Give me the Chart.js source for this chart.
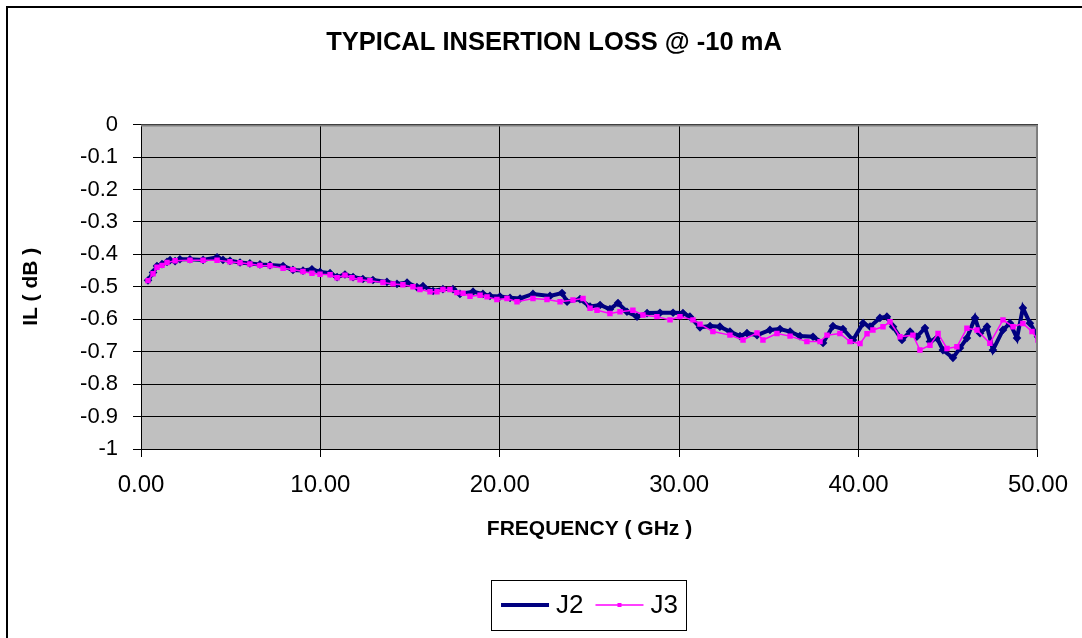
<!DOCTYPE html>
<html>
<head>
<meta charset="utf-8">
<title>Typical insertion loss</title>
<script src="https://cdn.jsdelivr.net/npm/chart.js@4/dist/chart.umd.min.js"></script>
<style>
  html, body { margin: 0; padding: 0; background: #fff; }
  #wrap { width: 1082px; height: 638px; }
</style>
</head>
<body>
<div id="wrap"><canvas id="ilChart" width="1082" height="638"></canvas></div>
<script>
// frequency (GHz) / insertion loss (dB)
var j2Freq = [0.39, 0.67, 0.89, 1.17, 1.45, 1.62, 1.90, 2.17, 2.73, 3.46,
  4.24, 4.57, 4.96, 5.52, 6.07, 6.63, 7.19, 7.92, 8.47, 9.03,
  9.53, 9.98, 10.54, 10.93, 11.37, 11.82, 12.37, 12.93, 13.71, 14.27,
  14.83, 15.38, 15.72, 16.28, 16.83, 17.39, 17.78, 18.51, 19.06, 19.45,
  20.01, 20.57, 21.13, 21.85, 22.80, 23.47, 23.75, 24.47, 25.03, 25.59,
  26.14, 26.59, 27.09, 27.65, 28.21, 28.93, 29.66, 30.21, 30.60, 31.16,
  31.72, 32.27, 32.83, 33.39, 33.78, 34.34, 35.06, 35.62, 36.18, 36.73,
  37.46, 38.02, 38.57, 39.13, 39.69, 40.25, 40.64, 41.19, 41.58, 41.92,
  42.42, 42.87, 43.25, 43.70, 43.98, 44.37, 44.70, 45.26, 45.65, 46.04,
  46.49, 46.77, 47.16, 47.49, 48.05, 48.44, 48.83, 49.16, 49.55, 50.00];
var j2Loss = [-0.480, -0.456, -0.436, -0.430, -0.423, -0.418, -0.421, -0.415, -0.415, -0.417,
  -0.409, -0.417, -0.420, -0.425, -0.428, -0.431, -0.433, -0.436, -0.448, -0.450,
  -0.446, -0.454, -0.458, -0.470, -0.462, -0.470, -0.476, -0.479, -0.485, -0.491,
  -0.487, -0.501, -0.498, -0.513, -0.507, -0.507, -0.522, -0.515, -0.522, -0.528,
  -0.530, -0.534, -0.536, -0.522, -0.528, -0.519, -0.546, -0.538, -0.561, -0.556,
  -0.569, -0.550, -0.577, -0.592, -0.581, -0.580, -0.580, -0.581, -0.592, -0.625,
  -0.621, -0.623, -0.638, -0.652, -0.643, -0.649, -0.633, -0.630, -0.638, -0.652,
  -0.654, -0.673, -0.621, -0.630, -0.664, -0.612, -0.623, -0.596, -0.592, -0.623,
  -0.664, -0.638, -0.654, -0.627, -0.669, -0.658, -0.695, -0.719, -0.689, -0.658,
  -0.596, -0.643, -0.623, -0.695, -0.633, -0.612, -0.658, -0.565, -0.612, -0.654];

var j3Freq = [0.39, 0.67, 0.89, 1.17, 1.45, 1.90, 2.73, 3.46, 4.24, 4.96,
  5.52, 6.07, 6.63, 7.19, 7.92, 8.47, 9.03, 9.53, 9.98, 10.54,
  10.93, 11.37, 11.76, 12.21, 12.76, 13.49, 14.05, 14.60, 15.16, 15.55,
  16.11, 16.50, 16.83, 17.22, 17.61, 17.95, 18.34, 18.90, 19.29, 19.84,
  20.40, 20.96, 21.85, 22.63, 23.36, 24.08, 24.64, 25.03, 25.42, 26.14,
  26.70, 27.42, 27.98, 28.76, 29.49, 30.04, 30.77, 31.16, 31.88, 32.83,
  33.56, 34.34, 34.67, 35.45, 36.18, 37.12, 37.85, 38.24, 38.96, 39.52,
  40.08, 40.47, 40.80, 41.36, 41.75, 42.31, 43.03, 43.42, 43.98, 44.43,
  44.93, 45.48, 46.04, 46.60, 47.32, 48.05, 48.61, 49.16, 49.67, 50.00];
var j3Loss = [-0.481, -0.460, -0.440, -0.434, -0.425, -0.420, -0.418, -0.418, -0.418, -0.423,
  -0.426, -0.430, -0.434, -0.435, -0.443, -0.447, -0.453, -0.458, -0.461, -0.463,
  -0.472, -0.464, -0.472, -0.478, -0.481, -0.487, -0.491, -0.494, -0.500, -0.508,
  -0.515, -0.515, -0.508, -0.508, -0.518, -0.520, -0.529, -0.526, -0.531, -0.539,
  -0.536, -0.546, -0.536, -0.539, -0.546, -0.541, -0.536, -0.566, -0.572, -0.582,
  -0.577, -0.572, -0.587, -0.592, -0.602, -0.592, -0.602, -0.615, -0.638, -0.649,
  -0.664, -0.642, -0.664, -0.644, -0.652, -0.669, -0.669, -0.649, -0.644, -0.669,
  -0.675, -0.645, -0.633, -0.623, -0.608, -0.654, -0.649, -0.695, -0.680, -0.644,
  -0.690, -0.685, -0.628, -0.633, -0.674, -0.602, -0.623, -0.613, -0.638, -0.664];

var xTicks = [0, 10, 20, 30, 40, 50];
var xTickLabels = ['0.00', '10.00', '20.00', '30.00', '40.00', '50.00'];
var yTicks = [-1, -0.9, -0.8, -0.7, -0.6, -0.5, -0.4, -0.3, -0.2, -0.1, 0];
var yTickLabels = ['-1', '-0.9', '-0.8', '-0.7', '-0.6', '-0.5', '-0.4', '-0.3', '-0.2', '-0.1', '0'];

var FONT = 'Arial, "Liberation Sans", sans-serif';

function toPoints(freq, loss) {
    return freq.map(function (f, i) { return { x: f, y: loss[i] }; });
}

// grey plot area + white page
var plotBackground = {
    id: 'plotBackground',
    beforeDraw: function (chart) {
        var ctx = chart.ctx, a = chart.chartArea;
        ctx.save();
        ctx.fillStyle = '#ffffff';
        ctx.fillRect(0, 0, chart.width, chart.height);
        ctx.fillStyle = '#c0c0c0';
        ctx.fillRect(a.left, a.top, a.right - a.left, a.bottom - a.top);
        ctx.restore();
    },
    afterDraw: function (chart) {
        var ctx = chart.ctx, a = chart.chartArea;
        ctx.save();
        // plot frame, top and right
        ctx.strokeStyle = '#808080';
        ctx.lineWidth = 2;
        ctx.beginPath();
        ctx.moveTo(a.left, a.top + 1);
        ctx.lineTo(a.right - 1, a.top + 1);
        ctx.lineTo(a.right - 1, a.bottom);
        ctx.stroke();
        // outer chart frame
        ctx.strokeStyle = '#000000';
        ctx.lineWidth = 2;
        ctx.strokeRect(7, 7, chart.width + 20, chart.height + 20);
        ctx.restore();
    }
};

// Excel-like legend in a box, centred under the plot
var boxedLegend = {
    id: 'boxedLegend',
    afterDraw: function (chart) {
        var ctx = chart.ctx, a = chart.chartArea;
        var sets = chart.data.datasets;
        var sample = 48, gap = 7, between = 12, y = 605;
        ctx.save();
        ctx.font = '26px ' + FONT;
        ctx.textBaseline = 'middle';
        var widths = sets.map(function (d) { return ctx.measureText(d.label).width; });
        var total = 0;
        widths.forEach(function (w, i) { total += sample + gap + w + (i ? between : 0); });
        var x = (a.left + a.right) / 2 - total / 2;
        ctx.strokeStyle = '#000';
        ctx.lineWidth = 1;
        ctx.strokeRect(Math.round(x - 10) + 0.5, 580.5, Math.round(total + 18), 50);
        sets.forEach(function (d, i) {
            ctx.strokeStyle = d.borderColor;
            ctx.lineWidth = d.borderWidth;
            ctx.beginPath();
            ctx.moveTo(x, y);
            ctx.lineTo(x + sample, y);
            ctx.stroke();
            ctx.fillStyle = d.borderColor;
            ctx.fillRect(x + sample / 2 - 2, y - 2, 4, 4);
            ctx.fillStyle = '#000';
            ctx.fillText(d.label, x + sample + gap, y + 1);
            x += sample + gap + widths[i] + between;
        });
        ctx.restore();
    }
};

new Chart(document.getElementById('ilChart'), {
    type: 'line',
    data: {
        datasets: [{
            label: 'J2',
            data: toPoints(j2Freq, j2Loss),
            borderColor: '#000080',
            backgroundColor: '#000080',
            borderWidth: 4,
            pointRadius: 1.5,
            pointStyle: 'rectRot',
            tension: 0,
            order: 1
        }, {
            label: 'J3',
            data: toPoints(j3Freq, j3Loss),
            borderColor: '#ff00ff',
            backgroundColor: '#ff00ff',
            borderWidth: 1.5,
            pointRadius: 2.8,
            pointStyle: 'rect',
            tension: 0,
            order: 0
        }]
    },
    options: {
        responsive: false,
        animation: false,
        devicePixelRatio: 1,
        events: [],
        layout: { padding: { left: 70, right: 44, top: 8, bottom: 8 } },
        plugins: {
            legend: { display: false },
            tooltip: { enabled: false },
            title: {
                display: true,
                text: 'TYPICAL INSERTION LOSS @ -10 mA',
                color: '#000',
                font: { family: FONT, size: 25.5, weight: 'bold', lineHeight: 1.2 },
                padding: { top: 20, bottom: 66 }
            }
        },
        scales: {
            x: {
                type: 'linear',
                min: 0,
                max: 50,
                afterBuildTicks: function (scale) {
                    scale.ticks = xTicks.map(function (v) { return { value: v }; });
                },
                afterFit: function (scale) { scale.height = 181; },
                ticks: {
                    color: '#000',
                    padding: 14,
                    maxRotation: 0,
                    font: { family: FONT, size: 24 },
                    callback: function (v, i) { return xTickLabels[i]; }
                },
                grid: { color: '#000', lineWidth: 1, tickLength: 8 },
                border: { display: true, color: '#000', width: 1 },
                title: {
                    display: true,
                    text: 'FREQUENCY ( GHz )',
                    color: '#000',
                    font: { family: FONT, size: 21, weight: 'bold', lineHeight: 1.2 },
                    padding: { top: 0, bottom: 88 }
                }
            },
            y: {
                type: 'linear',
                min: -1,
                max: 0,
                afterBuildTicks: function (scale) {
                    scale.ticks = yTicks.map(function (v) { return { value: v }; });
                },
                afterFit: function (scale) { scale.width = 71; },
                ticks: {
                    color: '#000',
                    padding: 15,
                    font: { family: FONT, size: 22 },
                    callback: function (v, i) { return yTickLabels[i]; }
                },
                grid: { color: '#000', lineWidth: 1, tickLength: 8 },
                border: { display: true, color: '#000', width: 1 },
                title: {
                    display: true,
                    text: 'IL ( dB )',
                    color: '#000',
                    font: { family: FONT, size: 21, weight: 'bold', lineHeight: 1.2 },
                    padding: { top: -51, bottom: 0 }
                }
            }
        }
    },
    plugins: [plotBackground, boxedLegend]
});
</script>
</body>
</html>
